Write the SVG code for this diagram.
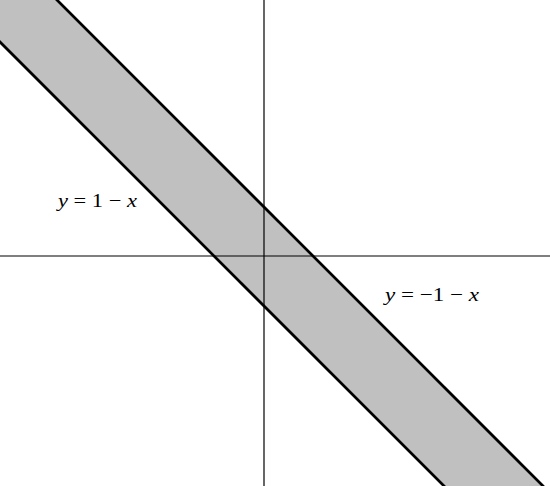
<svg xmlns="http://www.w3.org/2000/svg" width="550" height="486" viewBox="0 0 550 486">
<style>
.band{fill:#c0c0c0;stroke:none}
.axis{stroke:#000;stroke-width:1.2;fill:none}
.bl{stroke:#000;stroke-width:2.7;fill:none}
.lbl{font-family:"Liberation Serif","DejaVu Serif",serif;font-size:19px;fill:#000}
.it{font-style:italic}
</style>
<rect width="550" height="486" fill="#fff"/>
<g id="band">
<polygon class="band" points="-50,-107 600,543 600,642 -50,-8"/>
</g>
<g id="axes">
<line class="axis" x1="0" y1="256" x2="550" y2="256"/>
<line class="axis" x1="264" y1="0" x2="264" y2="486"/>
</g>
<g id="connectors">
<line class="bl" x1="-50" y1="-107" x2="600" y2="543"/>
<line class="bl" x1="-50" y1="-8" x2="600" y2="642"/>
</g>
<g id="label1">
<text class="lbl" x="58" y="207" textLength="79" lengthAdjust="spacingAndGlyphs"><tspan class="it">y</tspan> = 1 − <tspan class="it">x</tspan></text>
</g>
<g id="label2">
<text class="lbl" x="385" y="301" textLength="94" lengthAdjust="spacingAndGlyphs"><tspan class="it">y</tspan> = −1 − <tspan class="it">x</tspan></text>
</g>
</svg>
